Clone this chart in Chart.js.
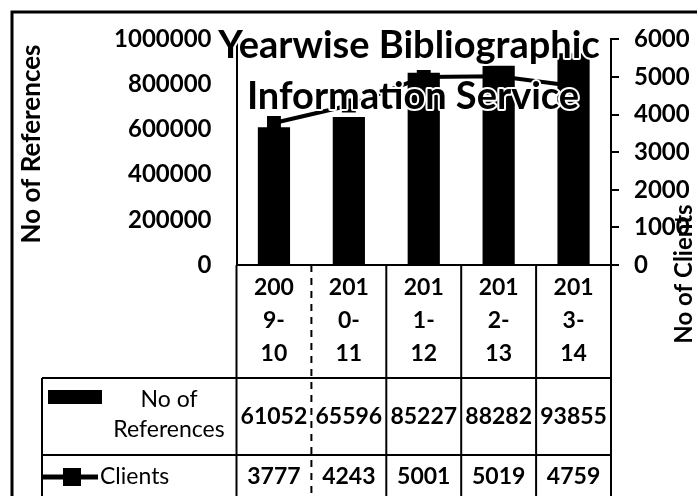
<!DOCTYPE html>
<html><head><meta charset="utf-8">
<script src="https://cdn.jsdelivr.net/npm/chart.js@4.4.1/dist/chart.umd.min.js"></script>
<style>html,body{margin:0;padding:0;background:#fff;} #wrap{width:697px;height:496px;position:relative;}</style>
</head><body><div id="wrap"><canvas id="c"></canvas></div>
<script>
// ---- data ----
const categories = ['2009-10', '2010-11', '2011-12', '2012-13', '2013-14'];
const categoryLines = [['200', '9-', '10'], ['201', '0-', '11'], ['201', '1-', '12'], ['201', '2-', '13'], ['201', '3-', '14']];
const references = [610520, 655960, 852270, 882820, 938550];
const referencesTable = ['61052', '65596', '85227', '88282', '93855'];
const clients = [3777, 4243, 5001, 5019, 4759];
const clientsTable = ['3777', '4243', '5001', '5019', '4759'];
const titleLines = ['Yearwise Bibliographic', 'Information Service'];
const leftTitle = 'No of References';
const rightTitle = 'No of Clients';
const seriesNames = ['No of', 'References', 'Clients'];

const FONT = 'Lato';

const tablePlugin = {
  id: 'tablePlugin',
  afterDraw(chart) {
    const ctx = chart.ctx;
    const xs = chart.scales.x;
    const ca = chart.chartArea;
    const n = categories.length;
    const half = (xs.getPixelForValue(1) - xs.getPixelForValue(0)) / 2;
    const bounds = [];
    for (let i = 0; i < n; i++) bounds.push(xs.getPixelForValue(i) - half);
    bounds.push(xs.getPixelForValue(n - 1) + half);
    const catBottom = 378, rowSep = 455, legLeft = 42, bottom = 500;
    ctx.save();
    ctx.strokeStyle = '#000';
    // outer border
    ctx.lineWidth = 3;
    ctx.strokeRect(12, 12, 700, 500);
    // table lines
    ctx.lineWidth = 2;
    bounds.forEach((bx, i) => {
      ctx.beginPath();
      if (i === 1) ctx.setLineDash([7, 6]); else ctx.setLineDash([]);
      ctx.moveTo(bx, ca.bottom);
      ctx.lineTo(bx, bottom);
      ctx.stroke();
    });
    ctx.setLineDash([]);
    [catBottom, rowSep].forEach(y => {
      ctx.beginPath();
      ctx.moveTo(legLeft, y);
      ctx.lineTo(bounds[n], y);
      ctx.stroke();
    });
    ctx.beginPath();
    ctx.moveTo(legLeft, catBottom);
    ctx.lineTo(legLeft, bottom);
    ctx.stroke();

    // legend
    ctx.fillStyle = '#000';
    ctx.fillRect(48, 390, 54, 14);
    ctx.lineWidth = 5;
    ctx.beginPath();
    ctx.moveTo(43, 477); ctx.lineTo(98, 477); ctx.stroke();
    ctx.fillRect(63, 468, 18, 18);
    ctx.font = 'normal 23px ' + FONT;
    ctx.textAlign = 'center';
    ctx.textBaseline = 'middle';
    ctx.fillText(seriesNames[0], 169, 400);
    ctx.fillText(seriesNames[1], 169, 430);
    ctx.textAlign = 'left';
    ctx.fillText(seriesNames[2], 100, 477);

    // values
    ctx.font = 'bold 23px ' + FONT;
    ctx.textAlign = 'center';
    for (let i = 0; i < n; i++) {
      const cx = xs.getPixelForValue(i);
      ctx.fillText(referencesTable[i], cx, 417);
      ctx.fillText(clientsTable[i], cx, 477);
    }

    // axis titles
    ctx.font = 'bold 26px ' + FONT;
    ctx.save();
    ctx.translate(32, 144); ctx.rotate(-Math.PI / 2);
    ctx.fillText(leftTitle, 0, 0);
    ctx.restore();
    ctx.font = 'bold 24px ' + FONT;
    ctx.save();
    ctx.translate(684, 274); ctx.rotate(-Math.PI / 2);
    ctx.fillText(rightTitle, 0, 0);
    ctx.restore();

    // title
    ctx.font = 'bold 38px ' + FONT;
    ctx.textBaseline = 'alphabetic';
    ctx.lineJoin = 'round';
    ctx.lineWidth = 4;
    ctx.strokeStyle = '#fff';
    ctx.strokeText(titleLines[0], 409, 58);
    ctx.fillText(titleLines[0], 409, 58);
    ctx.strokeText(titleLines[1], 413, 109);
    ctx.fillText(titleLines[1], 413, 109);
    ctx.restore();
  }
};

new Chart(document.getElementById('c'), {
  data: {
    labels: categories,
    datasets: [
      {
        type: 'line', label: 'Clients', data: clients, yAxisID: 'y1', order: 1,
        borderColor: '#000', backgroundColor: '#000', borderWidth: 4,
        pointStyle: 'rect', pointRadius: 7, pointBackgroundColor: '#000', pointBorderColor: '#000',
        tension: 0
      },
      {
        type: 'bar', label: 'No of References', data: references, yAxisID: 'y', order: 2,
        backgroundColor: '#000', borderWidth: 0,
        categoryPercentage: 1.0, barPercentage: 0.43
      }
    ]
  },
  plugins: [tablePlugin],
  options: {
    responsive: true, maintainAspectRatio: false, animation: false,
    devicePixelRatio: 1,
    layout: { padding: { left: 0, right: 0, top: 30, bottom: 118 } },
    plugins: { legend: { display: false }, title: { display: false }, tooltip: { enabled: false } },
    scales: {
      x: {
        position: 'bottom', offset: true,
        grid: { display: false, drawTicks: false },
        border: { display: true, color: '#000', width: 2 },
        ticks: {
          color: '#000', padding: 6, maxRotation: 0, autoSkip: false,
          font: { family: FONT, size: 23, weight: 'bold', lineHeight: '33px' },
          callback: (v, i) => categoryLines[i]
        },
        afterFit: s => { s.height = 113; }
      },
      y: {
        position: 'left', min: 0, max: 1000000,
        grid: { display: false, drawTicks: false },
        border: { display: true, color: '#000', width: 2 },
        ticks: {
          stepSize: 200000, color: '#000', padding: 25,
          font: { family: FONT, size: 24, weight: 'bold' },
          callback: v => String(v)
        },
        afterFit: s => { s.width = 236.5; }
      },
      y1: {
        position: 'right', min: 0, max: 6000,
        grid: { display: true, drawOnChartArea: false, drawTicks: true, tickLength: 8, color: '#000', lineWidth: 2 },
        border: { display: true, color: '#000', width: 2 },
        ticks: {
          stepSize: 1000, color: '#000', padding: 15,
          font: { family: FONT, size: 24, weight: 'bold' },
          callback: v => String(v)
        },
        afterFit: s => { s.width = 86; }
      }
    }
  }
});
</script>
</body></html>
